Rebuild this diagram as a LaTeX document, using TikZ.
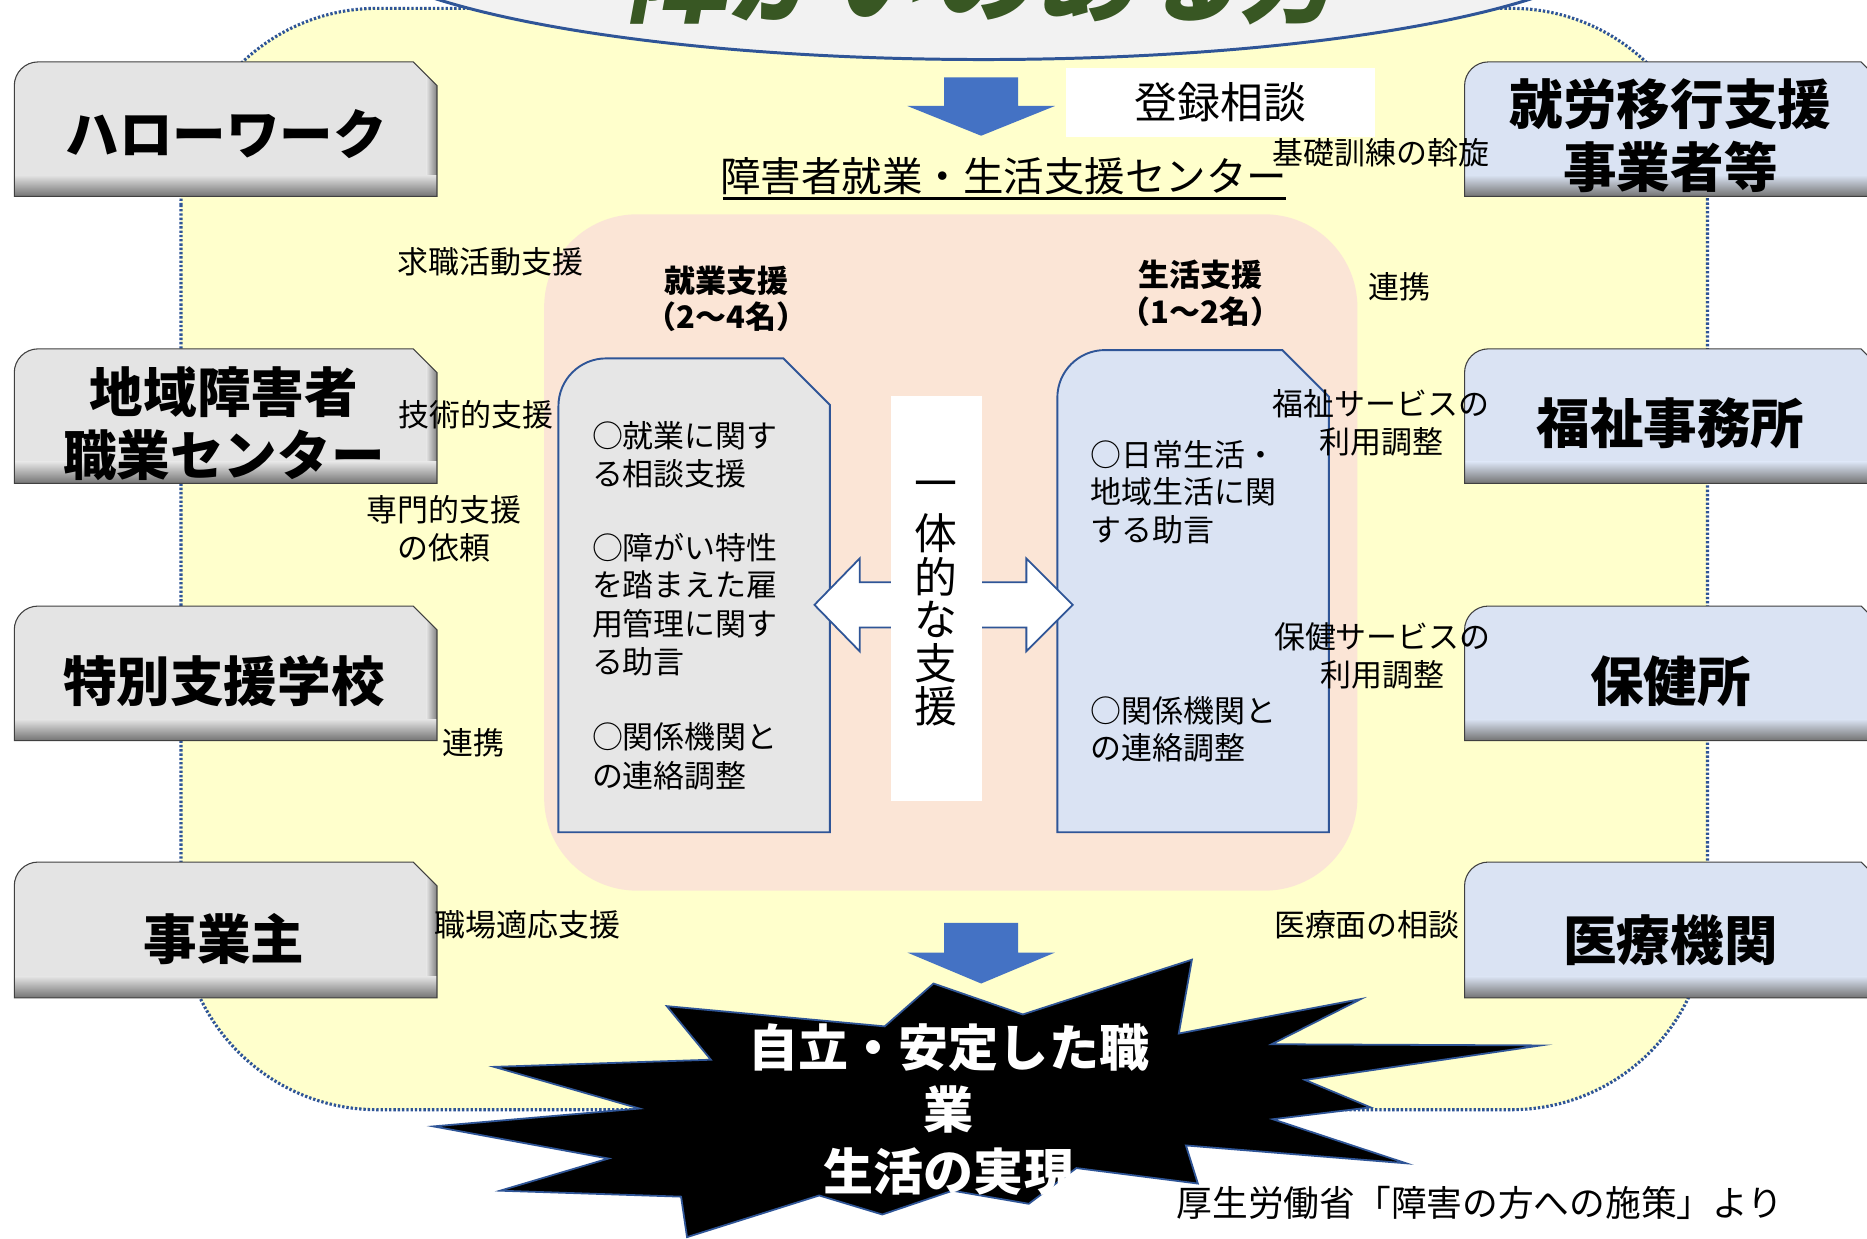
\documentclass[tikz,border=0pt]{standalone}
\usepackage{fontspec}
\setmainfont{Noto Sans CJK JP}
\definecolor{bgyellow}{RGB}{255,255,204}
\definecolor{navy}{RGB}{47,85,151}
\definecolor{ellgrey}{RGB}{242,242,242}
\definecolor{titlegreen}{RGB}{56,87,35}
\definecolor{arrowblue}{RGB}{68,114,196}
\definecolor{peach}{RGB}{251,229,214}
\definecolor{boxgrey}{RGB}{228,228,228}
\definecolor{boxblue}{RGB}{218,227,243}
\definecolor{docgrey}{RGB}{230,230,230}
\newcommand\sidebox[5]{%
  \begin{scope}
    \clip (#1,#4) -- (#1,#2+20) arc[start angle=180,end angle=270,radius=20] -- (#3-20,#2) -- (#3,#2+20) -- (#3,#4) -- cycle;
    \fill[#5] (#1,#2) rectangle (#3,#4);
    \shade[left color=#5, right color=black!50] (#3-9,#2) rectangle (#3,#4);
    \shade[top color=#5, bottom color=black!55] (#1,#4-18) rectangle (#3,#4);
  \end{scope}
  \draw[boxline] (#1,#4) -- (#1,#2+20) arc[start angle=180,end angle=270,radius=20] -- (#3-20,#2) -- (#3,#2+20) -- (#3,#4) -- cycle;
}
\newcommand\docbox[5]{%
  \draw[docline, fill=#5] (#1,#4) -- (#1,#2+40) arc[start angle=180,end angle=270,radius=40] -- (#3-39,#2) -- (#3,#2+39) -- (#3,#4) -- cycle;
}
\begin{document}
\begin{tikzpicture}[x=1pt,y=-1pt,
  boxline/.style={draw=black!75, line width=0.9pt},
  docline/.style={draw=navy, line width=1.6pt},
  lbl/.style={font=\fontsize{26}{32}\selectfont, align=center, inner sep=0pt},
  boxlbl/.style={font=\bfseries\fontsize{45}{53}\selectfont, align=center, inner sep=0pt},
  docln/.style={font=\fontsize{26}{32}\selectfont, anchor=base west, inner sep=0pt},
  headlbl/.style={font=\bfseries\fontsize{26}{31}\selectfont, align=center, inner sep=0pt},
  vchar/.style={font=\fontsize{36}{36}\selectfont, inner sep=0pt},
  blockarrow/.style={fill=arrowblue},
  bgline/.style={draw=navy, line width=2.6pt, dash pattern=on 2pt off 1.6pt},
]
\useasboundingbox (0,0) rectangle (1568,1040);
\clip (0,0) rectangle (1568,1040);
\fill[white] (0,0) rectangle (1568,1040);

% background region
\path[bgline, fill=bgyellow, rounded corners=165pt] (152,7) rectangle (1434,932);

% title ellipse
\draw[navy, line width=2.5pt, fill=ellgrey] (826,-60) ellipse [x radius=545, y radius=110];
\node[font=\bfseries\fontsize{86}{86}\selectfont, text=titlegreen, anchor=base, xslant=0.18, inner sep=0pt] (maintitle) at (826,12) {障がいのある方};

% centre region
\fill[peach, rounded corners=78pt] (457,180) rectangle (1140,748);
\docbox{469}{301}{697}{699}{docgrey}
\docbox{888}{294}{1116}{699}{boxblue}

\node[headlbl] (shugyo) at (610,251) {就業支援\\（2～4名）};
\node[headlbl] (seikatsu) at (1008,246) {生活支援\\（1～2名）};

\foreach \t/\y [count=\i] in {○就業に関す/376, る相談支援/408, ○障がい特性/470, を踏まえた雇/501, 用管理に関す/534, る助言/566, ○関係機関と/629, の連絡調整/661}
  \node[docln] (dl\i) at (497,\y) {\t};
\foreach \t/\y [count=\i] in {○日常生活・/392, 地域生活に関/423, する助言/455, ○関係機関と/607, の連絡調整/638}
  \node[docln] (dr\i) at (916,\y) {\t};

% double arrow and integrated support
\draw[navy, line width=1.5pt, fill=white, line join=miter] (684,508) -- (722,469) -- (722,489) -- (862,489) -- (862,469) -- (901,508) -- (862,547) -- (862,527) -- (722,527) -- (722,547) -- cycle;
\node[fill=white, minimum width=77pt, minimum height=340pt, inner sep=0pt] (ittaibox) at (786.5,503) {};
\foreach \c [count=\i] in {一,体,的,な,支,援}
  \node[vchar] (v\i) at (786,{412+36.2*(\i-1)}) {\c};

% blue arrows
\fill[blockarrow] (793,65) -- (855,65) -- (855,89) -- (886,89) -- (824,114) -- (762,89) -- (793,89) -- cycle;
\fill[blockarrow] (793,775) -- (855,775) -- (855,800) -- (886,800) -- (824,826) -- (762,800) -- (793,800) -- cycle;

\node[fill=white, minimum width=260pt, minimum height=58pt, inner sep=0pt, font=\fontsize{36}{40}\selectfont] (toroku) at (1025,86) {登録相談};

\node[font=\fontsize{34}{40}\selectfont, inner sep=0pt] (centre) at (843,148) {障害者就業・生活支援センター};
\draw[line width=2.4pt] (607,167) -- (1080,167);

% starburst
\draw[fill=black, draw=navy, line width=1.5pt, line join=miter, miter limit=20]
 (784,826) -- (859,852) -- (1001,806) -- (990,868) -- (1143,839) -- (1068,877) -- (1294,878) -- (1096,907) -- (1151,930) -- (1069,940) -- (1181,977) -- (996,962) -- (1006,994) -- (904,981) -- (864,1011) -- (800,1000) -- (741,1020) -- (688,1004) -- (577,1039) -- (572,1005) -- (420,1000) -- (511,973) -- (364,946) -- (537,931) -- (415,896) -- (597,890) -- (560,845) -- (743,862) -- cycle;
\node[font=\bfseries\fontsize{42}{52}\selectfont, text=white, align=center, inner sep=0pt] (goal) at (797,932) {自立・安定した職\\業\\生活の実現};

% side boxes
\sidebox{12}{52}{367}{165}{boxgrey}
\node[boxlbl] (hw) at (190,113) {ハローワーク};
\sidebox{12}{293}{367}{406}{boxgrey}
\node[boxlbl] (chiiki) at (188,356) {地域障害者\\職業センター};
\sidebox{12}{509}{367}{622}{boxgrey}
\node[boxlbl] (tokubetsu) at (188,572) {特別支援学校};
\sidebox{12}{724}{367}{838}{boxgrey}
\node[boxlbl] (jigyonushi) at (188,789) {事業主};

\sidebox{1230}{52}{1583}{165}{boxblue}
\node[boxlbl] (ikou) at (1403,114) {就労移行支援\\事業者等};
\sidebox{1230}{293}{1583}{406}{boxblue}
\node[boxlbl] (fukushi) at (1403,355) {福祉事務所};
\sidebox{1230}{509}{1583}{622}{boxblue}
\node[boxlbl] (hoken) at (1403,572) {保健所};
\sidebox{1230}{724}{1583}{838}{boxblue}
\node[boxlbl] (iryo) at (1403,790) {医療機関};

% labels
\node[lbl] (l1) at (412,220) {求職活動支援};
\node[lbl] (l2) at (400,348) {技術的支援};
\node[lbl] (l3) at (373,444) {専門的支援\\の依頼};
\node[lbl] (l4) at (398,624) {連携};
\node[lbl] (l5) at (443,777) {職場適応支援};
\node[lbl] (r0) at (1160,128) {基礎訓練の斡旋};
\node[lbl] (r1) at (1175,241) {連携};
\node[lbl] (r2) at (1160,355) {福祉サービスの\\利用調整};
\node[lbl] (r3) at (1161,551) {保健サービスの\\利用調整};
\node[lbl] (r4) at (1148,777) {医療面の相談};
\node[font=\fontsize{30}{36}\selectfont, inner sep=0pt] (src) at (1243,1010) {厚生労働省「障害の方への施策」より};
\end{tikzpicture}
\end{document}
